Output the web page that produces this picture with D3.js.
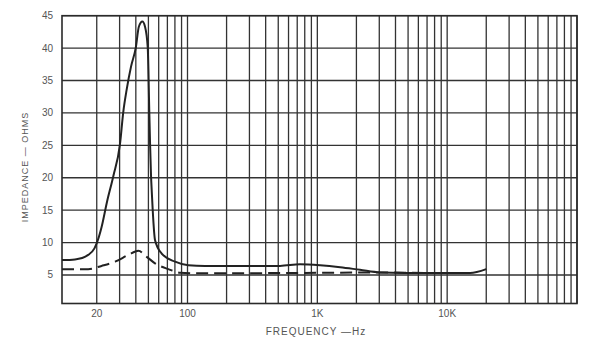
<!DOCTYPE html>
<html>
<head>
<meta charset="utf-8">
<script src="https://cdn.jsdelivr.net/npm/d3@7"></script>
<style>
  body { margin: 0; background: #fff; }
  text { font-family: "Liberation Sans", Arial, sans-serif; fill: #555; }
</style>
</head>
<body>
<div id="chart"></div>
<script>
// impedance curve (solid) - freq Hz, ohms
const solidFreq = [10.8, 13.6, 17.2, 19.2, 20, 21.8, 24, 26.8, 30.2, 32, 34, 36.7, 40, 42.2, 44.9, 47.1, 49.4, 50.8, 51.5, 52.4, 53, 54, 56.2, 63.3, 80.2, 101.5, 136.5, 224, 286, 516, 736, 1050, 1500, 2130, 3040, 7400, 15000, 20000];
const solidOhms = [7.3, 7.4, 8.1, 9.1, 9.9, 12.4, 16.3, 20.2, 25.2, 30.1, 33.6, 37.1, 40.1, 43.3, 44.1, 43.3, 40.1, 30.1, 25.2, 20.2, 18.1, 14.9, 10.4, 8.3, 7.05, 6.5, 6.4, 6.4, 6.4, 6.4, 6.65, 6.5, 6.2, 5.8, 5.4, 5.3, 5.3, 5.9];

// dashed curve
const dashFreq = [10.8, 17.2, 21.8, 27.7, 35, 41.8, 48.5, 56.2, 71.2, 87.6, 136.5, 500, 1500, 3000, 7400, 15000];
const dashOhms = [5.9, 5.9, 6.4, 7.05, 8.1, 8.75, 7.8, 6.8, 5.9, 5.35, 5.25, 5.3, 5.35, 5.4, 5.3, 5.3];

const yTicks = [5, 10, 15, 20, 25, 30, 35, 40, 45];
const xTickVals = [20, 100, 1000, 10000];
const xTickLabels = ['20', '100', '1K', '10K'];

const width = 595;
const height = 353;

const svg = d3.select('#chart').append('svg')
  .attr('width', width)
  .attr('height', height);

// scales
const x = d3.scaleLog()
  .domain([10.8, 100000])
  .range([62, 577]);

const y = d3.scaleLinear()
  .domain([0, 45])
  .range([307.4, 15.7]);

const yBottom = 303.5;
const yTop = y(45);

// vertical grid lines 1..9 x 10^k
const gridFreqs = [];
for (let k = 1; k <= 5; k++) {
  for (let m = 1; m <= 9; m++) {
    const f = m * Math.pow(10, k);
    if (f > 10.8 && f <= 100000) gridFreqs.push(f);
  }
}

const grid = svg.append('g').attr('class', 'grid');

grid.selectAll('.vline')
  .data(gridFreqs)
  .enter()
  .append('line')
  .attr('x1', d => x(d)).attr('x2', d => x(d))
  .attr('y1', yTop).attr('y2', yBottom)
  .attr('stroke', '#333')
  .attr('stroke-width', 1.3);

grid.selectAll('.hline')
  .data(yTicks)
  .enter()
  .append('line')
  .attr('x1', x.range()[0]).attr('x2', x.range()[1])
  .attr('y1', d => y(d)).attr('y2', d => y(d))
  .attr('stroke', '#333')
  .attr('stroke-width', 1.3);

// frame
svg.append('rect')
  .attr('x', x.range()[0])
  .attr('y', yTop)
  .attr('width', x.range()[1] - x.range()[0])
  .attr('height', yBottom - yTop)
  .attr('fill', 'none')
  .attr('stroke', '#2a2a2a')
  .attr('stroke-width', 1.6);

// curves
const line = d3.line()
  .x(d => x(d[0]))
  .y(d => y(d[1]))
  .curve(d3.curveMonotoneX);

const solid = solidFreq.map((f, i) => [f, solidOhms[i]]);
const dashed = dashFreq.map((f, i) => [f, dashOhms[i]]);

svg.append('path')
  .attr('d', line(dashed))
  .attr('fill', 'none')
  .attr('stroke', '#222')
  .attr('stroke-width', 2)
  .attr('stroke-dasharray', '12,6');

svg.append('path')
  .attr('d', line(solid))
  .attr('fill', 'none')
  .attr('stroke', '#222')
  .attr('stroke-width', 2);

// tick labels
svg.selectAll('.ylab')
  .data(yTicks)
  .enter()
  .append('text')
  .attr('x', 53)
  .attr('y', d => y(d) + 3.5)
  .attr('text-anchor', 'end')
  .attr('font-size', 10)
  .text(d => d);

svg.selectAll('.xlab')
  .data(xTickVals)
  .enter()
  .append('text')
  .attr('x', d => x(d))
  .attr('y', 317)
  .attr('text-anchor', 'middle')
  .attr('font-size', 10)
  .text((d, i) => xTickLabels[i]);

// axis titles
svg.append('text')
  .attr('transform', 'translate(28, 167) rotate(-90)')
  .attr('text-anchor', 'middle')
  .attr('font-size', 9)
  .attr('letter-spacing', 1)
  .text('IMPEDANCE  —  OHMS');

svg.append('text')
  .attr('x', 316)
  .attr('y', 335)
  .attr('text-anchor', 'middle')
  .attr('font-size', 10)
  .attr('letter-spacing', 1)
  .text('FREQUENCY  —Hz');
</script>
</body>
</html>
